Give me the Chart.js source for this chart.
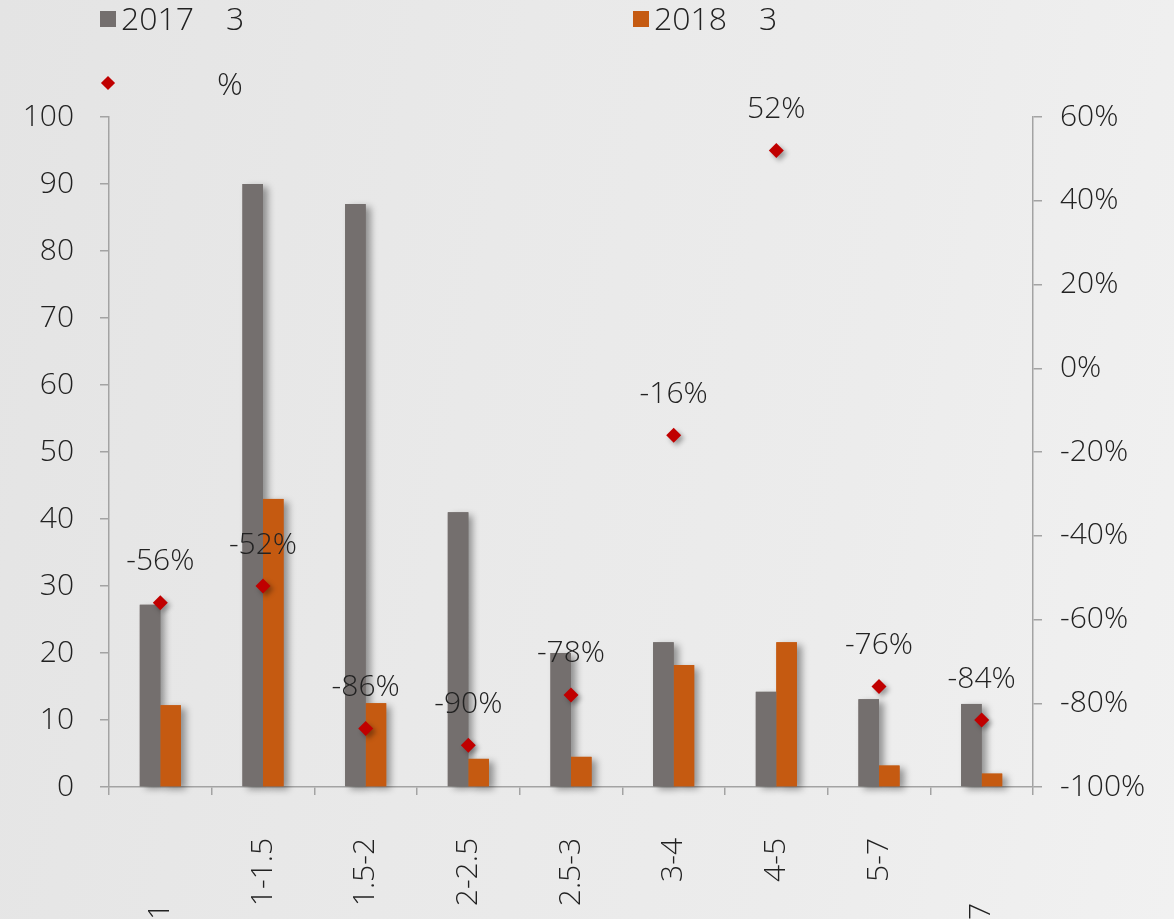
<!DOCTYPE html>
<html>
<head>
<meta charset="utf-8">
<script src="https://cdn.jsdelivr.net/npm/chart.js@4/dist/chart.umd.min.js"></script>
<style>
  html, body { margin: 0; padding: 0; }
  body {
    width: 1174px; height: 919px; overflow: hidden;
    background: linear-gradient(100deg, #e4e4e4 0%, #e9e9e9 40%, #ececec 70%, #f1f1f1 100%);
    font-family: "Open Sans", "Noto Sans", sans-serif;
  }
  #wrap { position: relative; width: 1174px; height: 919px; }
  #c { position: absolute; left: 0; top: 0; }
  .leg { position: absolute; font-size: 32px; font-weight: 300; color: #222; white-space: pre; line-height: 36px; }
  .leg .sq { position: absolute; width: 16px; height: 16px; }
  .leg .dm { position: absolute; width: 10px; height: 10px; transform: rotate(45deg); }
</style>
</head>
<body>
<div id="wrap">
  <canvas id="c" width="1174" height="919"></canvas>
</div>
<script>
  // categories and values
  const categories = ['1\u3000\u3000\u2009', '1-1.5', '1.5-2', '2-2.5', '2.5-3', '3-4', '4-5', '5-7', '7\u3000\u3000\u2009'];
  const values2017 = [27.2, 90, 87, 41, 20, 21.6, 14.2, 13.1, 12.4];
  const values2018 = [12.2, 43, 12.5, 4.2, 4.5, 18.2, 21.6, 3.2, 2.0];
  const changePct = [-56, -52, -86, -90, -78, -16, 52, -76, -84];
  const seriesNames = ['2017\u30003\u3000', '2018\u30003\u3000', '\u3000\u3000\u3000%'];

  const GRAY = '#746f6e';
  const ORANGE = '#c55a11';
  const RED = '#c00000';
  const AXIS = '#a3a3a3';
  const TXT = '#222222';
  const FONT = { family: '"Open Sans", "Noto Sans", sans-serif', size: 30, weight: '300' };

  // bar shadows painted first so every bar covers its neighbour's shadow
  const barShadows = {
    id: 'barShadows',
    beforeDatasetsDraw(chart) {
      const ctx = chart.ctx;
      ctx.save();
      ctx.shadowColor = 'rgba(0,0,0,0.38)';
      ctx.shadowBlur = 7;
      ctx.shadowOffsetX = 5;
      ctx.shadowOffsetY = 3;
      chart.data.datasets.forEach((ds, i) => {
        const meta = chart.getDatasetMeta(i);
        if (meta.type !== 'bar') return;
        ctx.fillStyle = ds.backgroundColor;
        meta.data.forEach(el => {
          const p = el.getProps(['x', 'y', 'base', 'width'], true);
          ctx.fillRect(p.x - p.width / 2, p.y, p.width, p.base - p.y);
        });
      });
      ctx.restore();
    },
    beforeDatasetDraw(chart, args) {
      if (args.meta.type !== 'line') return;
      const ctx = chart.ctx;
      ctx.save();
      ctx.shadowColor = 'rgba(0,0,0,0.35)';
      ctx.shadowBlur = 5;
      ctx.shadowOffsetX = 3;
      ctx.shadowOffsetY = 3;
    },
    afterDatasetDraw(chart, args) {
      if (args.meta.type === 'line') chart.ctx.restore();
    }
  };

  // percent labels over the markers
  const pctLabels = {
    id: 'pctLabels',
    afterDatasetsDraw(chart) {
      const ctx = chart.ctx;
      const meta = chart.getDatasetMeta(0);
      ctx.save();
      ctx.font = FONT.weight + ' ' + FONT.size + 'px ' + FONT.family;
      ctx.fillStyle = TXT;
      ctx.textAlign = 'center';
      ctx.textBaseline = 'middle';
      meta.data.forEach((pt, i) => {
        ctx.fillText(changePct[i] + '%', pt.x, pt.y - 41);
      });
      ctx.restore();
    }
  };

  const chart = new Chart(document.getElementById('c'), {
    data: {
      labels: categories,
      datasets: [
        {
          type: 'line',
          label: seriesNames[2],
          data: changePct,
          yAxisID: 'y1',
          showLine: false,
          pointStyle: 'rectRot',
          pointRadius: 7.5,
          backgroundColor: RED,
          borderColor: RED,
          borderWidth: 0,
          order: 0
        },
        {
          type: 'bar',
          label: seriesNames[0],
          data: values2017,
          yAxisID: 'y',
          backgroundColor: GRAY,
          categoryPercentage: 0.4,
          barPercentage: 1,
          order: 1
        },
        {
          type: 'bar',
          label: seriesNames[1],
          data: values2018,
          yAxisID: 'y',
          backgroundColor: ORANGE,
          categoryPercentage: 0.4,
          barPercentage: 1,
          order: 1
        }
      ]
    },
    options: {
      responsive: false,
      animation: false,
      devicePixelRatio: 1,
      layout: { padding: { top: 117, left: 0, right: 0, bottom: 0 } },
      plugins: {
        legend: { display: false },
        tooltip: { enabled: false }
      },
      scales: {
        x: {
          grid: { drawOnChartArea: false, tickLength: 8, color: AXIS, lineWidth: 1.5 },
          border: { color: AXIS, width: 1.5 },
          ticks: { color: TXT, font: FONT, minRotation: 90, maxRotation: 90, autoSkip: false, padding: 43 },
          afterFit(s) { s.height = 132; }
        },
        y: {
          position: 'left',
          min: 0, max: 100,
          grid: { drawOnChartArea: false, tickLength: 9, color: AXIS, lineWidth: 1.5 },
          border: { color: AXIS, width: 1.5 },
          ticks: { stepSize: 10, color: TXT, font: FONT, padding: 26 },
          afterFit(s) { s.width = 109; }
        },
        y1: {
          position: 'right',
          min: -100, max: 60,
          grid: { drawOnChartArea: false, tickLength: 9, color: AXIS, lineWidth: 1.5 },
          border: { color: AXIS, width: 1.5 },
          ticks: { stepSize: 20, color: TXT, font: FONT, padding: 18, callback: v => v + '%' },
          afterFit(s) { s.width = 141; }
        }
      }
    },
    plugins: [barShadows, pctLabels]
  });

  // legend built from the dataset names
  const wrap = document.getElementById('wrap');
  const legendItems = [
    { name: seriesNames[0], color: GRAY, kind: 'sq', x: 100, y: 0 },
    { name: seriesNames[1], color: ORANGE, kind: 'sq', x: 633, y: 0 },
    { name: seriesNames[2], color: RED, kind: 'dm', x: 100, y: 65 }
  ];
  legendItems.forEach(it => {
    const d = document.createElement('div');
    d.className = 'leg';
    d.style.left = it.x + 'px';
    d.style.top = it.y + 'px';
    d.style.paddingLeft = '21px';
    const m = document.createElement('span');
    m.className = it.kind;
    m.style.background = it.color;
    if (it.kind === 'sq') { m.style.left = '0px'; m.style.top = '11px'; }
    else { m.style.left = '3px'; m.style.top = '13px'; }
    d.appendChild(m);
    d.appendChild(document.createTextNode(it.name));
    wrap.appendChild(d);
  });
</script>
</body>
</html>
